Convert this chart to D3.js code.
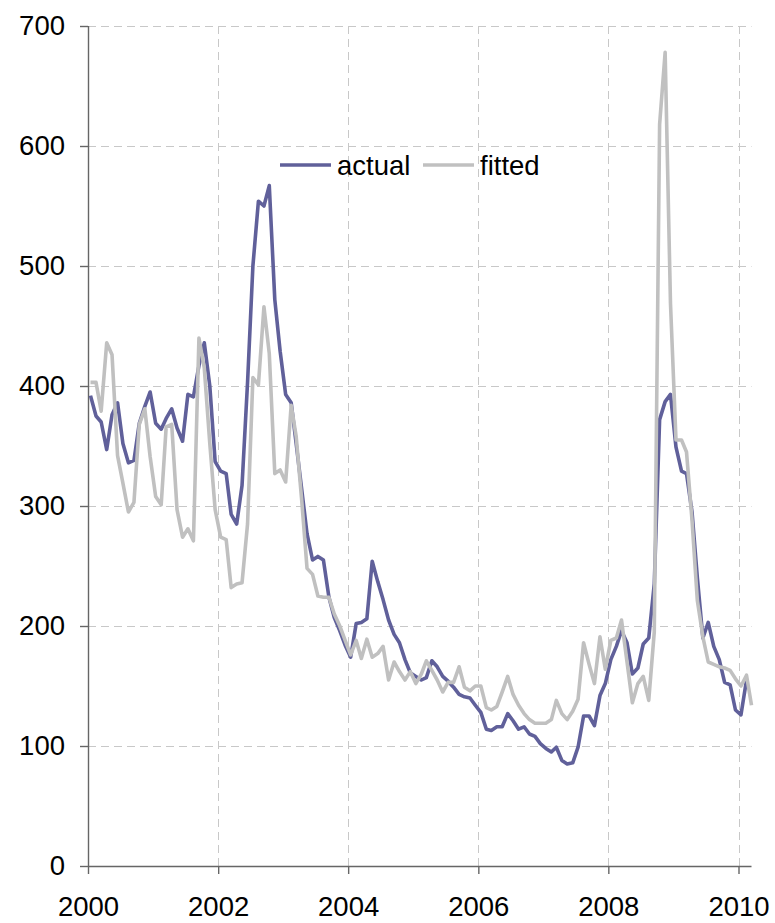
<!DOCTYPE html>
<html>
<head>
<meta charset="utf-8">
<script src="https://cdn.jsdelivr.net/npm/d3@7/dist/d3.min.js"></script>
<style>
  html, body { margin: 0; padding: 0; background: #fff; }
  svg text { font-family: "Liberation Sans", Arial, sans-serif; fill: #000; }
</style>
</head>
<body>
<svg id="chart" width="775" height="923"></svg>
<script>
// ---- data (monthly, Jan 2000 onwards, dated mid-month) ----
const startYear = 2000, startMonth = 0;
const actual = [
  392,375,370,347,376,386,352,336,338,369,383,395,
  369,364,373,381,365,354,393,391,417,436,400,337,
  329,327,293,285,317,403,500,554,550,567,472,429,
  393,386,352,314,277,255,258,255,224,207,196,184,
  174,202,203,206,254,237,222,205,193,186,172,161,
  158,155,157,171,166,158,154,149,143,141,140,134,
  128,114,113,116,116,127,121,114,116,110,108,102,
  98,95,99,88,85,86,99,125,125,117,142,152,
  172,183,196,186,160,165,185,190,235,372,387,393,
  349,329,327,295,240,190,203,183,172,153,151,130,
  126,155
];
const fitted = [
  403,403,379,436,426,342,319,295,303,368,381,341,
  308,301,366,368,297,274,281,271,440,415,352,297,
  274,272,232,235,236,285,407,401,466,427,327,330,
  320,384,358,305,248,243,225,224,224,210,200,188,
  176,188,173,189,174,177,183,155,170,162,155,162,
  152,160,171,163,155,145,153,153,166,149,146,150,
  150,132,130,133,145,158,143,134,127,122,119,119,
  119,122,138,127,122,129,139,186,168,152,191,164,
  188,190,205,170,136,152,158,138,195,618,678,469,
  355,355,345,288,221,191,170,168,166,165,163,156,
  150,159,134
];
const seriesNames = ["actual", "fitted"];
const seriesColors = ["#60609a", "#c0c0c0"];
const yTicks = [0,100,200,300,400,500,600,700];
const xTickYears = [2000,2002,2004,2006,2008,2010];

// ---- layout ----
const L = 88, R = 751.5, T = 26, B = 866;
const svg = d3.select("#chart");

const x = d3.scaleTime()
  .domain([new Date(2000,0,1), new Date(2010,2,15)])
  .range([L, R]);
const y = d3.scaleLinear().domain([0,700]).range([B, T]);

const dateOf = i => new Date(startYear, startMonth + i, 15);

// grid
const grid = svg.append("g").attr("stroke", "#c8c8c8").attr("stroke-width", 1)
  .attr("stroke-dasharray", "8,5").attr("fill", "none");
grid.selectAll("line.h").data(yTicks.filter(v => v > 0)).join("line")
  .attr("class","h")
  .attr("x1", L).attr("x2", R)
  .attr("y1", d => y(d) + 0.5).attr("y2", d => y(d) + 0.5);
grid.selectAll("line.v").data(xTickYears.filter(v => v > 2000)).join("line")
  .attr("class","v")
  .attr("x1", d => Math.round(x(new Date(d,0,1))) + 0.5)
  .attr("x2", d => Math.round(x(new Date(d,0,1))) + 0.5)
  .attr("y1", T).attr("y2", B);

// axes
const fontSize = 27.5;
const yAxis = d3.axisLeft(y).tickValues(yTicks).tickSize(8).tickPadding(15).tickFormat(d3.format("d"));
const gy = svg.append("g").attr("transform", `translate(${L},0)`).call(yAxis);
const xAxis = d3.axisBottom(x).tickValues(xTickYears.map(yy => new Date(yy,0,1)))
  .tickSize(8).tickPadding(22).tickFormat(d3.timeFormat("%Y"));
const gx = svg.append("g").attr("transform", `translate(0,${B})`).call(xAxis);
[gx, gy].forEach(g => {
  g.selectAll("path.domain").attr("stroke", "#666").attr("stroke-width", 1.4);
  g.selectAll(".tick line").attr("stroke", "#666").attr("stroke-width", 1.4);
  g.selectAll(".tick text").attr("font-size", fontSize)
    .attr("font-family", "'Liberation Sans', Arial, sans-serif").attr("fill", "#000");
});
gy.select("path.domain").attr("d", `M0.5,${B}V${T}`);
gx.select("path.domain").attr("d", `M${L},0.5H${R}`);

// lines
const line = d3.line()
  .x((d, i) => x(dateOf(i)))
  .y(d => y(d));
[actual, fitted].forEach((vals, k) => {
  svg.append("path")
    .datum(vals)
    .attr("fill", "none")
    .attr("stroke", seriesColors[k])
    .attr("stroke-width", 3.6)
    .attr("stroke-linejoin", "round")
    .attr("stroke-linecap", "butt")
    .attr("d", line);
});

// legend
const legendX = [280, 423];
const leg = svg.append("g");
seriesNames.forEach((name, k) => {
  leg.append("line")
    .attr("x1", legendX[k]).attr("x2", legendX[k] + 51)
    .attr("y1", 165).attr("y2", 165)
    .attr("stroke", seriesColors[k]).attr("stroke-width", 3.6);
  leg.append("text")
    .attr("x", legendX[k] + 57).attr("y", 175)
    .attr("font-size", fontSize)
    .text(name);
});
</script>
</body>
</html>
